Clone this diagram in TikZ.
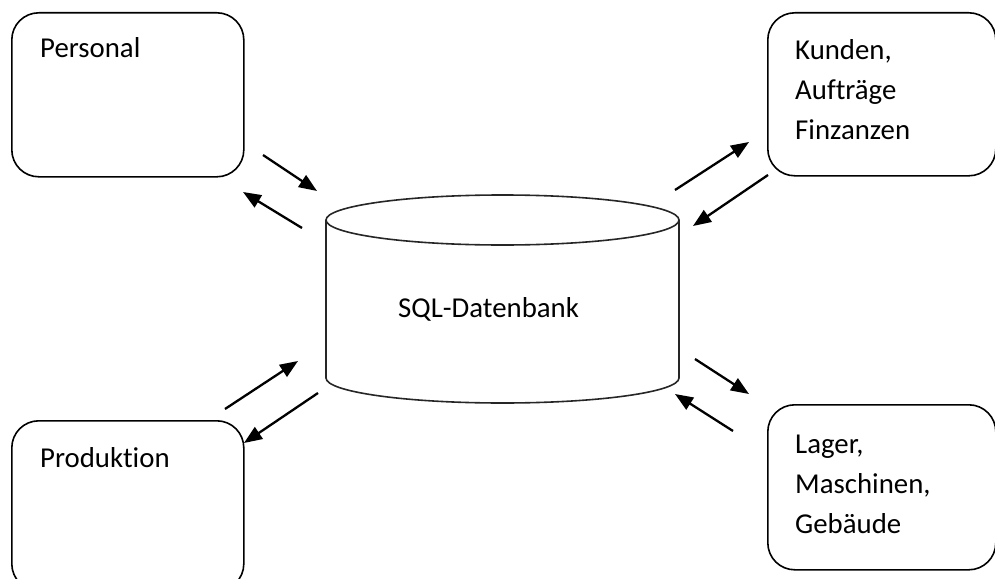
\documentclass[tikz,border=0pt]{standalone}
\usepackage{fontspec}
\setmainfont{Carlito}[Ligatures=NoCommon]
\usetikzlibrary{arrows.meta}
\begin{document}
\begin{tikzpicture}[x=1pt,y=-1pt,
  box/.style={draw, line width=1.6pt, rounded corners=27pt, inner sep=0pt, anchor=north west},
  lbl/.style={anchor=base west, inner sep=0pt, font=\fontsize{28.8}{40}\selectfont, align=left},
  cyl/.style={draw=black!85, line width=1.6pt},
  flow/.style={line width=2.3pt, -{Triangle[length=18pt,width=14pt]}}]
\useasboundingbox (0,0) rectangle (995,578);
\clip (0,0) rectangle (995,578);
% boxes
\node[box, minimum width=232pt, minimum height=164pt] (pers) at (11,12) {};
\node[box, minimum width=228pt, minimum height=163pt] (kund) at (767,12) {};
\node[box, minimum width=228pt, minimum height=165pt] (lag) at (767,404) {};
\node[box, minimum width=232pt, minimum height=170pt] (prod) at (11,420) {};
% labels (base anchor = baseline of the last line)
\node[lbl] (tpers) at (40,58) {Personal};
\node[lbl] (tkund) at (795,139) {Kunden,\\Aufträge\\Finzanzen};
\node[lbl] (tlag) at (795,533) {Lager,\\Maschinen,\\Gebäude};
\node[lbl] (tprod) at (40,467) {Produktion};
% database cylinder
\draw[cyl] (326,220) -- (326,378) arc[start angle=180, end angle=0, x radius=176.5, y radius=25] -- (679,220);
\draw[cyl] (502.5,220) ellipse[x radius=176.5, y radius=25];
\node[lbl] (db) at (398,317) {SQL-Datenbank};
% arrow end points
\coordinate (p1) at (263,155); \coordinate (p2) at (317,191);
\coordinate (p3) at (302,228); \coordinate (p4) at (243,192);
\coordinate (k1) at (675,190); \coordinate (k2) at (749,142);
\coordinate (k3) at (768,175); \coordinate (k4) at (693,226);
\coordinate (l1) at (695,359); \coordinate (l2) at (749,394);
\coordinate (l3) at (733,431); \coordinate (l4) at (675,394);
\coordinate (r1) at (225,409); \coordinate (r2) at (298,361);
\coordinate (r3) at (318,393); \coordinate (r4) at (244,443);
\draw[flow] (p1) -- (p2);
\draw[flow] (p3) -- (p4);
\draw[flow] (k1) -- (k2);
\draw[flow] (k3) -- (k4);
\draw[flow] (l1) -- (l2);
\draw[flow] (l3) -- (l4);
\draw[flow] (r1) -- (r2);
\draw[flow] (r3) -- (r4);
\end{tikzpicture}
\end{document}
